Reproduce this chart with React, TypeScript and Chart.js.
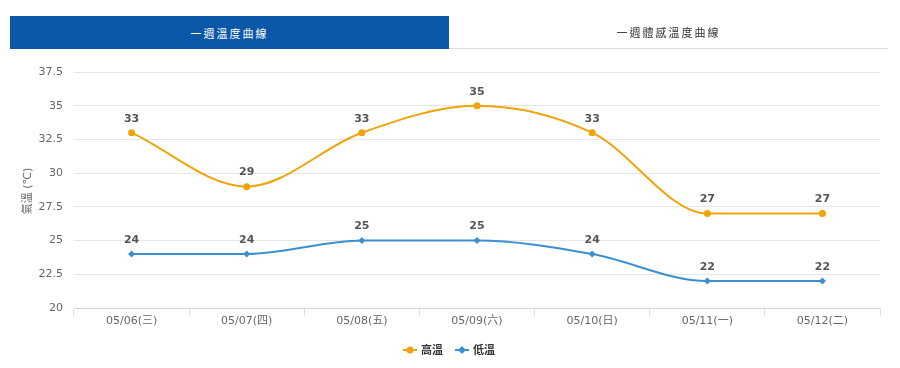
import React, { useEffect, useRef } from "react";
import { Chart, registerables } from "chart.js";

Chart.register(...registerables);

const categories = ["05/06(三)", "05/07(四)", "05/08(五)", "05/09(六)", "05/10(日)", "05/11(一)", "05/12(二)"];
const highTemps = [33, 29, 33, 35, 33, 27, 27];
const lowTemps = [24, 24, 25, 25, 24, 22, 22];
const seriesNames = ["高溫", "低溫"];
const tabLabels = ["一週溫度曲線", "一週體感溫度曲線"];
const yTitle = "氣溫 (℃)";

const ORANGE = "#f0a30a";
const BLUE = "#3d8fd1";
const FONT = '"DejaVu Sans", "Noto Sans CJK TC", sans-serif';

const overlayPlugin = {
  id: "overlay",
  afterDatasetsDraw(chart: any) {
    const ctx = chart.ctx;
    ctx.save();
    ctx.font = `bold 11px ${FONT}`;
    ctx.fillStyle = "#555";
    ctx.textAlign = "center";
    ctx.textBaseline = "middle";
    chart.data.datasets.forEach((ds: any, i: number) => {
      const meta = chart.getDatasetMeta(i);
      meta.data.forEach((pt: any, j: number) => {
        ctx.fillText(String(ds.data[j]), pt.x, pt.y - 14);
      });
    });
    ctx.save();
    ctx.translate(28, chart.chartArea.top + (chart.chartArea.bottom - chart.chartArea.top) / 2 + 1);
    ctx.rotate(-Math.PI / 2);
    ctx.font = `11px ${FONT}`;
    ctx.fillStyle = "#666";
    ctx.fillText(yTitle, 0, 0);
    ctx.restore();
    const ly = 350;
    const items = [
      { x: 403, color: ORANGE, shape: "circle", name: seriesNames[0] },
      { x: 455, color: BLUE, shape: "diamond", name: seriesNames[1] },
    ];
    items.forEach((it) => {
      ctx.strokeStyle = it.color;
      ctx.fillStyle = it.color;
      ctx.lineWidth = 2;
      ctx.beginPath();
      ctx.moveTo(it.x, ly);
      ctx.lineTo(it.x + 14, ly);
      ctx.stroke();
      ctx.beginPath();
      if (it.shape === "circle") {
        ctx.arc(it.x + 7, ly, 3.5, 0, Math.PI * 2);
      } else {
        ctx.moveTo(it.x + 7, ly - 4);
        ctx.lineTo(it.x + 11, ly);
        ctx.lineTo(it.x + 7, ly + 4);
        ctx.lineTo(it.x + 3, ly);
        ctx.closePath();
      }
      ctx.fill();
      ctx.font = `bold 11px ${FONT}`;
      ctx.fillStyle = "#333";
      ctx.textAlign = "left";
      ctx.fillText(it.name, it.x + 18, ly + 1);
    });
    ctx.restore();
  },
};

export default function App() {
  const ref = useRef<HTMLCanvasElement | null>(null);

  useEffect(() => {
    document.body.style.margin = "0";
    if (!ref.current) return;
    const chart = new Chart(ref.current, {
      type: "line",
      data: {
        labels: categories,
        datasets: [
          {
            label: seriesNames[0],
            data: highTemps,
            borderColor: ORANGE,
            backgroundColor: ORANGE,
            borderWidth: 2,
            pointStyle: "circle",
            pointRadius: 3.5,
            pointBorderWidth: 0,
            cubicInterpolationMode: "monotone",
          },
          {
            label: seriesNames[1],
            data: lowTemps,
            borderColor: BLUE,
            backgroundColor: BLUE,
            borderWidth: 2,
            pointStyle: "rectRot",
            pointRadius: 3.5,
            pointBorderWidth: 0,
            cubicInterpolationMode: "monotone",
          },
        ],
      },
      options: {
        animation: false,
        responsive: false,
        maintainAspectRatio: false,
        layout: { padding: { top: 72, left: 0, right: 20, bottom: 0 } },
        plugins: {
          legend: { display: false },
          tooltip: { enabled: false },
        },
        scales: {
          x: {
            offset: true,
            grid: {
              offset: true,
              drawOnChartArea: false,
              drawTicks: true,
              tickLength: 8,
              color: "#dcdcdc",
            },
            border: { display: true, color: "#ccd6eb" },
            ticks: {
              padding: -1,
              color: "#666",
              font: { size: 11, family: FONT },
              maxRotation: 0,
            },
            afterFit: (s: any) => {
              s.height = 60;
            },
          },
          y: {
            min: 20,
            max: 37.5,
            ticks: {
              stepSize: 2.5,
              padding: 11,
              color: "#666",
              font: { size: 11, family: FONT },
            },
            grid: { color: "#e6e6e6", drawTicks: false },
            border: { display: false },
            afterFit: (s: any) => {
              s.width = 74;
            },
          },
        },
      },
      plugins: [overlayPlugin],
    });
    return () => chart.destroy();
  }, []);

  const tabBase: React.CSSProperties = {
    position: "absolute",
    top: 16,
    height: 33,
    width: 439,
    display: "flex",
    alignItems: "center",
    justifyContent: "center",
    fontFamily: '"Noto Sans CJK TC", sans-serif',
    fontSize: 11,
    letterSpacing: 2,
  };

  return (
    <div style={{ position: "relative", width: 900, height: 368, background: "#fff", overflow: "hidden" }}>
      <canvas ref={ref} width={900} height={368} style={{ position: "absolute", left: 0, top: 0 }} />
      <div style={{ ...tabBase, left: 10, background: "#0b57a8", color: "#fff" }}>{tabLabels[0]}</div>
      <div style={{ ...tabBase, left: 449, color: "#333", borderBottom: "1px solid #ddd", height: 32 }}>{tabLabels[1]}</div>
    </div>
  );
}
